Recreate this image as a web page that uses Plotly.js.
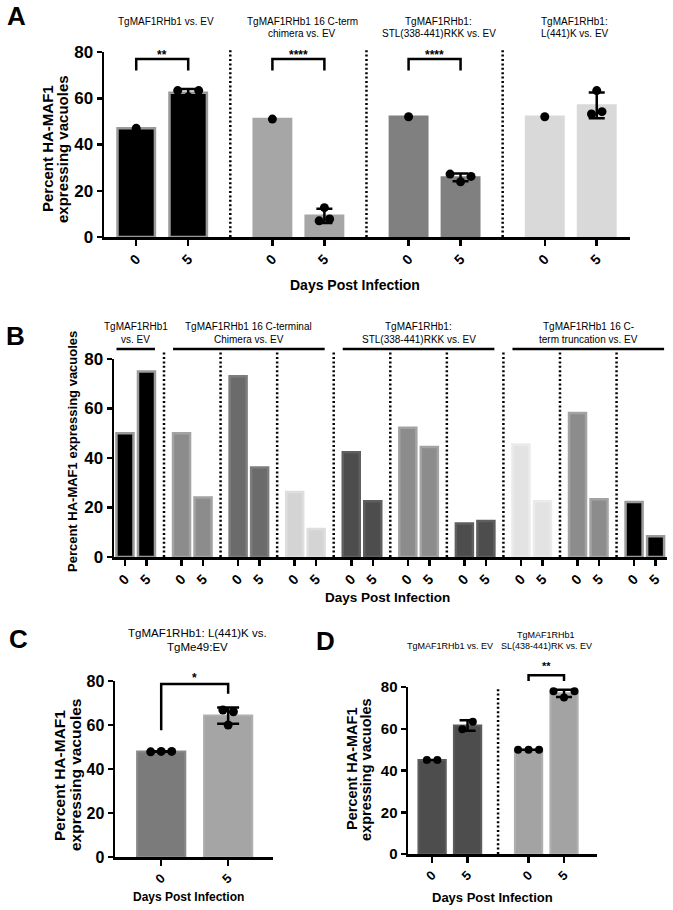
<!DOCTYPE html>
<html>
<head>
<meta charset="utf-8">
<script src="https://cdn.plot.ly/plotly-3.0.1.min.js"></script>
<style>body{margin:0;background:#fff}</style>
</head>
<body>
<div id="myDiv" style="width:673px;height:910px"></div>
<script>
// ---------- data ----------
var days = ['0', '5'];

// A - replicates (percent HA-MAF1 expressing vacuoles)
var aTitles = ['TgMAF1RHb1 vs. EV', 'TgMAF1RHb1 16 C-term<br>chimera vs. EV',
  'TgMAF1RHb1:<br>STL(338-441)RKK vs. EV', 'TgMAF1RHb1:<br>L(441)K vs. EV'];
var aDay0 = [[47.0], [51.0], [52.0], [52.0]];
var aDay5 = [[63.3, 60.6, 63.3], [12.7, 7.0, 7.8], [27.2, 23.9, 26.2], [63.3, 53.2, 54.2]];
var aStars = ['**', '****', '****', ''];

// B - single experiments
var bHeaders = ['TgMAF1RHb1<br>vs. EV', 'TgMAF1RHb1 16 C-terminal<br>Chimera vs. EV',
  'TgMAF1RHb1:<br>STL(338-441)RKK vs. EV', 'TgMAF1RHb1 16 C-<br>term truncation vs. EV'];
var bHeaderSpan = [[0, 0], [1, 3], [4, 6], [7, 9]];
var bDay0 = [50, 50, 73, 26.3, 42.3, 52.2, 13.5, 45.5, 58.2, 22.2];
var bDay5 = [75, 24, 36.2, 11.3, 22.5, 44.4, 14.5, 22.5, 23.3, 8.4];

// C
var cTitles = ['TgMAF1RHb1: L(441)K vs.<br>TgMe49:EV'];
var cDay0 = [[47.8, 48.0, 48.0]];
var cDay5 = [[66.8, 60.0, 66.0]];
var cStars = ['*'];

// D
var dTitles = ['TgMAF1RHb1 vs. EV', 'TgMAF1RHb1<br>SL(438-441)RK vs. EV'];
var dDay0 = [[45, 45], [50, 50, 50]];
var dDay5 = [[59.8, 63.3], [78, 75, 78]];
var dStars = ['', '**'];

// ---------- look ----------
var FONT = 'Liberation Sans, Arial, Helvetica, sans-serif';
var W = 673, H = 910;

var panelA = {n: 1, L: 104, R: 630, T: 52, B: 237, range: [-0.62, 9.5], step: 2.62, bw: 0.72,
  fills: ['#000', '#000', '#a6a6a6', '#a6a6a6', '#808080', '#808080', '#d9d9d9', '#d9d9d9'],
  edges: ['#9a9a9a', '#9a9a9a', '#a6a6a6', '#a6a6a6', '#808080', '#808080', '#d9d9d9', '#d9d9d9'],
  edgeW: 2.5, dot: 9, cap: 8, xTick: 14, yTick: 17, sepTop: 81,
  bracket: {top: 77, legs: [72, 72]}, starY: 52, starSize: 12,
  titleY: 21.5, titleGap: 12, titleSize: 10, titleAlign: 'top', titleDx: 4};

var panelB = {n: 2, L: 114, R: 667, T: 359, B: 557, range: [-0.51, 25.2], step: 2.63, bw: 0.79,
  fills: ['#000', '#000', '#8c8c8c', '#8c8c8c', '#6b6b6b', '#6b6b6b', '#d4d4d4', '#d4d4d4', '#4d4d4d', '#4d4d4d',
    '#8c8c8c', '#8c8c8c', '#4d4d4d', '#4d4d4d', '#e3e3e3', '#e3e3e3', '#8c8c8c', '#8c8c8c', '#000', '#000'],
  edges: ['#9a9a9a', '#9a9a9a', '#a3a3a3', '#a3a3a3', '#7d7d7d', '#7d7d7d', '#dedede', '#dedede', '#5f5f5f', '#5f5f5f',
    '#a3a3a3', '#a3a3a3', '#5f5f5f', '#5f5f5f', '#ebebeb', '#ebebeb', '#a3a3a3', '#a3a3a3', '#9a9a9a', '#9a9a9a'],
  edgeW: 2.5, noDots: true, xTick: 14, yTick: 17, sepTop: 83};

var panelC = {n: 3, L: 115, R: 273, T: 681, B: 857, range: [-0.69, 1.67], step: 2, bw: 0.72,
  fills: ['#7b7b7b', '#a5a5a5'], edges: ['#8a8a8a', '#b0b0b0'],
  edgeW: 2, dot: 9, cap: 11, xTick: 13, yTick: 16, sepTop: 80,
  bracket: {top: 78.6, legs: [57.6, 74.2]}, starY: 675, starSize: 12,
  titleY: 633, titleGap: 13.5, titleSize: 11.5, titleAlign: 'top', titleDx: 3};

var panelD = {n: 4, L: 408, R: 597, T: 687, B: 854, range: [-0.68, 4.65], step: 2.72, bw: 0.77,
  fills: ['#4d4d4d', '#4d4d4d', '#a3a3a3', '#a3a3a3'], edges: ['#5c5c5c', '#5c5c5c', '#b0b0b0', '#b0b0b0'],
  edgeW: 2, dot: 8, cap: 8, xTick: 13, yTick: 15, sepTop: 80,
  bracket: {top: 85.6, legs: [82.9, 82.9]}, starY: 663, starSize: 11,
  titleY: 646, titleGap: 11, titleSize: 9, titleAlign: 'bottom', titleDx: 0};

// ---------- helpers ----------
var data = [], shapes = [], annotations = [];
var layout = {width: W, height: H, margin: {l: 0, r: 0, t: 0, b: 0},
  paper_bgcolor: '#fff', plot_bgcolor: 'rgba(0,0,0,0)', showlegend: false,
  font: {family: FONT, color: '#000'}};

function X(px) { return px / W; }
function Y(py) { return 1 - py / H; }
function mean(a) { return a.reduce(function (s, v) { return s + v; }, 0) / a.length; }
function sd(a) {
  if (a.length < 2) return 0;
  var m = mean(a);
  return Math.sqrt(a.reduce(function (s, v) { return s + (v - m) * (v - m); }, 0) / (a.length - 1));
}
// spread overlapping replicate dots sideways, like a scatter dot plot
function spread(vals, ppv, gap) {
  var idx = vals.map(function (v, i) { return i; }).sort(function (a, b) { return vals[a] - vals[b]; });
  var groups = [], cur = [idx[0]];
  for (var k = 1; k < idx.length; k++) {
    if ((vals[idx[k]] - vals[idx[k - 1]]) * ppv < gap) cur.push(idx[k]);
    else { groups.push(cur); cur = [idx[k]]; }
  }
  groups.push(cur);
  var off = vals.map(function () { return 0; });
  groups.forEach(function (c) {
    c.sort(function (a, b) { return a - b; });
    c.forEach(function (i, j) { off[i] = j - (c.length - 1) / 2; });
  });
  return off;
}
function label(text, xPx, yPx, size, bold, angle, yanchor) {
  annotations.push({xref: 'paper', yref: 'paper', x: X(xPx), y: Y(yPx),
    text: bold ? '<b>' + text + '</b>' : text, showarrow: false,
    xanchor: 'center', yanchor: yanchor || 'middle', textangle: angle || 0,
    font: {family: FONT, size: size, color: '#000'}});
}
// one annotation per line so line spacing can be tight
function lines(text, xPx, yPx, size, gap, align) {
  var parts = text.split('<br>');
  parts.forEach(function (t, i) {
    var y = align === 'bottom' ? yPx - (parts.length - 1 - i) * gap : yPx + i * gap;
    label(t, xPx, y, size, false);
  });
}

function addPanel(p, day0, day5, titles, stars) {
  var sfx = p.n > 1 ? String(p.n) : '';
  var xa = 'x' + sfx, ya = 'y' + sfx;
  var ppu = (p.R - p.L) / (p.range[1] - p.range[0]);
  var ppv = (p.B - p.T) / 80;
  function ux(u) { return p.L + (u - p.range[0]) * ppu; }
  function vy(v) { return p.B - v * ppv; }

  var bx = [], by = [], tv = [], tt = [], ex = [], ey = [], es = [], dx = [], dy = [];
  for (var g = 0; g < day0.length; g++) {
    [day0[g], day5[g]].forEach(function (reps, d) {
      var x = g * p.step + d, m = mean(reps);
      bx.push(x); by.push(m); tv.push(x); tt.push(days[d]);
      if (reps.length > 1) { ex.push(x); ey.push(m); es.push(sd(reps)); }
      var off = spread(reps, ppv, 10);
      reps.forEach(function (v, i) { dx.push(x + off[i] * 10.5 / ppu); dy.push(v); });
    });
  }

  data.push({type: 'bar', x: bx, y: by, width: p.bw, xaxis: xa, yaxis: ya, hoverinfo: 'skip',
    marker: {color: p.fills, line: {color: p.edges, width: p.edgeW}}});
  if (!p.noDots) {
    data.push({type: 'scatter', mode: 'markers', x: ex, y: ey, xaxis: xa, yaxis: ya, hoverinfo: 'skip',
      cliponaxis: false, marker: {color: 'rgba(0,0,0,0)', size: 1},
      error_y: {type: 'data', array: es, color: '#000', thickness: 2.5, width: p.cap}});
    data.push({type: 'scatter', mode: 'markers', x: dx, y: dy, xaxis: xa, yaxis: ya, hoverinfo: 'skip',
      cliponaxis: false, marker: {color: '#000', size: p.dot}});
  }

  var axisStyle = {showline: true, linewidth: 2.5, linecolor: '#000', ticks: 'outside', ticklen: 6,
    tickwidth: 2.5, tickcolor: '#000', showgrid: false, zeroline: false, fixedrange: true};
  layout['xaxis' + sfx] = Object.assign({}, axisStyle, {domain: [X(p.L), X(p.R)], range: p.range, anchor: ya,
    tickmode: 'array', tickvals: tv, ticktext: tt, tickangle: -45,
    tickfont: {family: FONT, size: p.xTick, color: '#000', weight: 'bold'}});
  layout['yaxis' + sfx] = Object.assign({}, axisStyle, {domain: [Y(p.B), Y(p.T)], range: [0, 80], anchor: xa,
    tickmode: 'array', tickvals: [0, 20, 40, 60, 80], ticklen: 5,
    tickfont: {family: FONT, size: p.yTick, color: '#000', weight: 'bold'}});

  // dotted separators between constructs
  for (var s = 1; s < day0.length; s++) {
    var sx = ux((s * p.step + (s - 1) * p.step + 1) / 2);
    shapes.push({type: 'line', xref: 'paper', yref: 'paper', x0: X(sx), x1: X(sx), y0: Y(vy(0)), y1: Y(vy(p.sepTop)),
      line: {color: '#000', width: 2.5, dash: '2px,2.4px'}});
  }
  // significance brackets
  (stars || []).forEach(function (st, k) {
    if (!st) return;
    var x0 = X(ux(k * p.step)), x1 = X(ux(k * p.step + 1));
    var yt = Y(vy(p.bracket.top));
    shapes.push({type: 'path', xref: 'paper', yref: 'paper',
      path: 'M' + x0 + ',' + Y(vy(p.bracket.legs[0])) + ' L' + x0 + ',' + yt + ' L' + x1 + ',' + yt +
        ' L' + x1 + ',' + Y(vy(p.bracket.legs[1])),
      line: {color: '#000', width: 2.5}});
    label(st, (ux(k * p.step) + ux(k * p.step + 1)) / 2, p.starY + 0.27 * p.starSize, p.starSize, true);
  });
  // construct titles
  (titles || []).forEach(function (t, k) {
    lines(t, ux(k * p.step + 0.5) + p.titleDx, p.titleY, p.titleSize, p.titleGap, p.titleAlign);
  });
  return ux;
}

// ---------- build ----------
addPanel(panelA, aDay0, aDay5, aTitles, aStars);

var bSingle = function (a) { return a.map(function (v) { return [v]; }); };
var uxB = addPanel(panelB, bSingle(bDay0), bSingle(bDay5), null, null);
bHeaders.forEach(function (t, k) {
  var a = bHeaderSpan[k][0], b = bHeaderSpan[k][1];
  var x0 = uxB(a * panelB.step - panelB.bw / 2), x1 = uxB(b * panelB.step + 1 + panelB.bw / 2);
  shapes.push({type: 'line', xref: 'paper', yref: 'paper', x0: X(x0), x1: X(x1), y0: Y(349), y1: Y(349),
    line: {color: '#000', width: 2.5}});
  lines(t, (x0 + x1) / 2, 339, 10, 13, 'bottom');
});

addPanel(panelC, cDay0, cDay5, cTitles, cStars);
addPanel(panelD, dDay0, dDay5, dTitles, dStars);

// axis titles
label('Percent HA-MAF1', 48, 149, 15, true, -90);
label('expressing vacuoles', 63, 149, 15, true, -90);
label('Days Post Infection', 355, 285, 14, true);

label('Percent HA-MAF1 expressing vacuoles', 72, 452, 13, true, -90);
label('Days Post Infection', 388, 597, 13.5, true);

label('Percent HA-MAF1', 59, 775, 15.5, true, -90);
label('expressing vacuoles', 75, 775, 15.5, true, -90);
label('Days Post Infection', 188, 897, 12, true);

label('Percent HA-MAF1', 352, 769, 14.5, true, -90);
label('expressing vacuoles', 366, 769, 14.5, true, -90);
label('Days Post Infection', 493, 897, 13, true);

// panel letters
label('A', 16, 16, 26, true);
label('B', 15, 336, 26, true);
label('C', 18, 639, 26, true);
label('D', 325, 641, 26, true);

layout.shapes = shapes;
layout.annotations = annotations;
Plotly.newPlot('myDiv', data, layout, {staticPlot: true});
</script>
</body>
</html>
